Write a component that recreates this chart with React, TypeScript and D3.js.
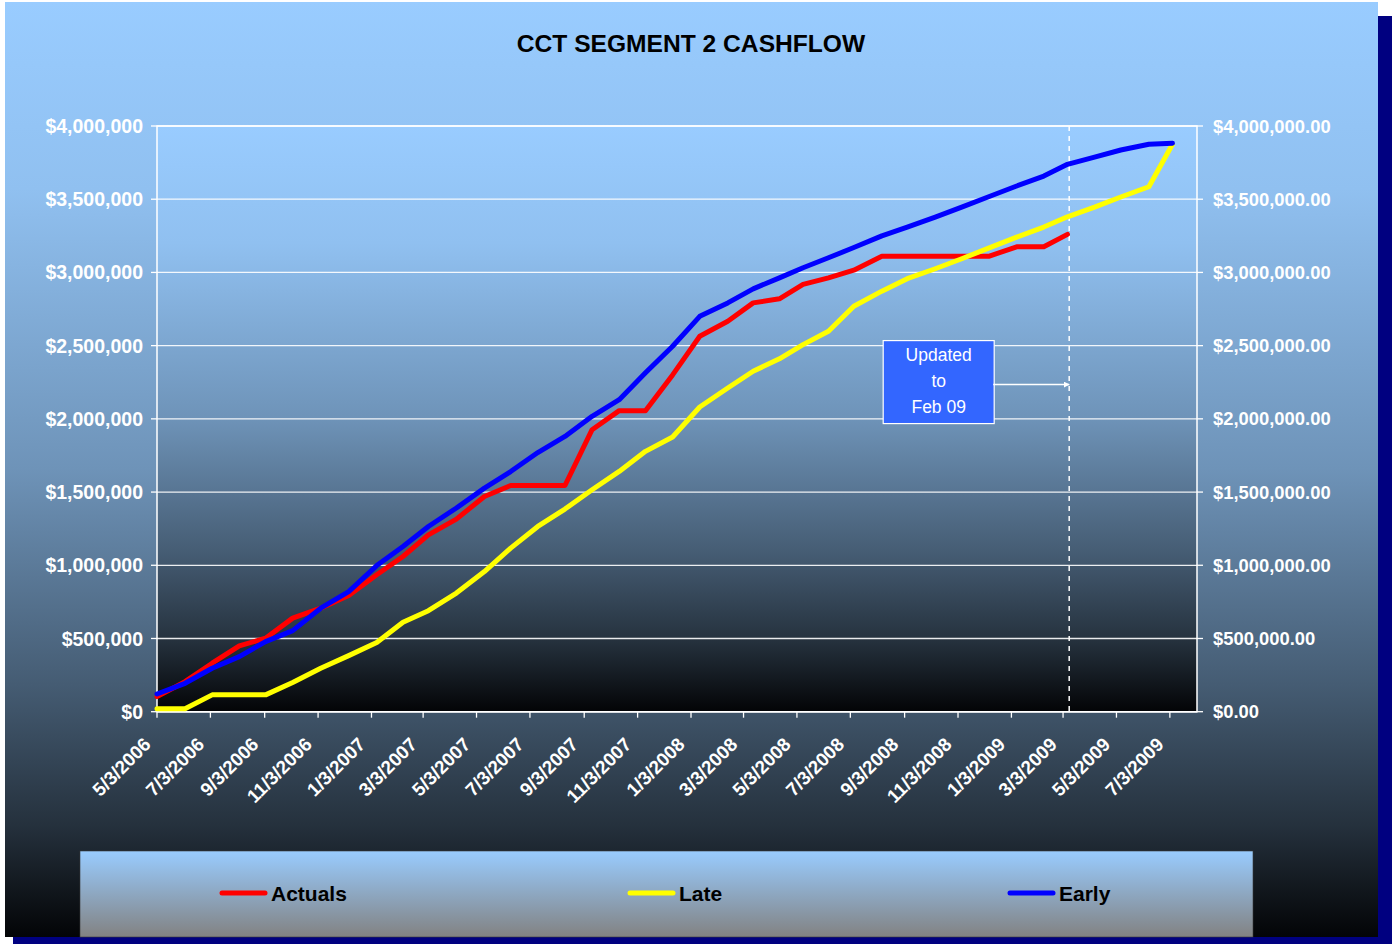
import { useEffect, useRef } from "react";
import * as d3 from "d3";

// dates of the monthly cost reports (as plotted on the date axis)
const reportDates = [
  "5/3/2006", "6/4/2006", "7/5/2006", "8/5/2006", "9/4/2006", "10/5/2006", "11/6/2006", "12/8/2006",
  "1/9/2007", "2/8/2007", "3/9/2007", "4/10/2007", "5/12/2007", "6/11/2007", "7/12/2007", "8/12/2007",
  "9/12/2007", "10/13/2007", "11/12/2007", "12/13/2007", "1/13/2008", "2/14/2008", "3/14/2008", "4/13/2008",
  "5/10/2008", "6/8/2008", "7/7/2008", "8/8/2008", "9/6/2008", "10/8/2008", "11/8/2008", "12/8/2008",
  "1/9/2009", "2/9/2009", "3/8/2009", "4/8/2009", "5/8/2009", "6/9/2009", "7/6/2009"
];

const tickLabels = [
  "5/3/2006", "7/3/2006", "9/3/2006", "11/3/2006", "1/3/2007", "3/3/2007", "5/3/2007", "7/3/2007",
  "9/3/2007", "11/3/2007", "1/3/2008", "3/3/2008", "5/3/2008", "7/3/2008", "9/3/2008", "11/3/2008",
  "1/3/2009", "3/3/2009", "5/3/2009", "7/3/2009"
];

const actuals = [
  103000, 205000, 331000, 449000, 502000, 639000, 707000, 793000, 935000, 1060000,
  1208000, 1315000, 1470000, 1545000, 1545000, 1545000, 1926000, 2056000, 2056000, 2300000,
  2564000, 2667000, 2792000, 2820000, 2918000, 2963000, 3015000, 3110000, 3110000, 3110000,
  3110000, 3110000, 3175000, 3175000, 3260000
];

const late = [
  20000, 20000, 115000, 115000, 115000, 200000, 297000, 383000, 472000, 611000,
  690000, 810000, 957000, 1117000, 1265000, 1384000, 1516000, 1641000, 1778000, 1876000,
  2081000, 2211000, 2325000, 2410000, 2507000, 2598000, 2769000, 2872000, 2957000, 3025000,
  3095000, 3166000, 3241000, 3310000, 3380000, 3446000, 3515000, 3585000, 3875000
];

const early = [
  121000, 194000, 297000, 376000, 479000, 554000, 707000, 820000, 998000, 1128000,
  1265000, 1391000, 1527000, 1640000, 1770000, 1880000, 2017000, 2131000, 2314000, 2496000,
  2700000, 2792000, 2888000, 2963000, 3032000, 3100000, 3170000, 3250000, 3310000, 3378000,
  3448000, 3517000, 3590000, 3658000, 3738000, 3788000, 3836000, 3875000, 3882000
];

const yTicks = [0, 500000, 1000000, 1500000, 2000000, 2500000, 3000000, 3500000, 4000000];
const axisEnd = "8/3/2009";
const updatedAt = "3/10/2009";
const noteLines = ["Updated", "to", "Feb 09"];

const seriesList = [
  { name: "Actuals", values: actuals, color: "#ff0000" },
  { name: "Late", values: late, color: "#ffff00" },
  { name: "Early", values: early, color: "#0000ff" }
];

const parse = d3.timeParse("%m/%d/%Y");
const dates = reportDates.map(s => parse(s) as Date);

export default function App() {
  const ref = useRef<SVGSVGElement | null>(null);

  useEffect(() => {
    const svg = d3.select(ref.current);
    svg.selectAll("*").remove();
    const W = 1397, H = 944;
    svg.attr("width", W).attr("height", H);

    const font = "Liberation Sans, Arial, sans-serif";
    const box = { l: 5, t: 2, r: 1378, b: 937 };
    const m = { l: 157, t: 126, r: 1197, b: 711.7 };

    const defs = svg.append("defs");
    const shade = (id: string) => {
      const g = defs.append("linearGradient").attr("id", id)
        .attr("x1", "0%").attr("y1", "0%").attr("x2", "0%").attr("y2", "100%");
      [[0, "#99ccff"], [0.2, "#90c0f0"], [0.5, "#6e93b8"], [0.73, "#455c73"], [0.88, "#25313d"], [1, "#030406"]]
        .forEach(([o, c]) => g.append("stop").attr("offset", o as number).attr("stop-color", c as string));
    };
    shade("bgOuter");
    shade("bgPlot");
    const lg = defs.append("linearGradient").attr("id", "bgLegend")
      .attr("x1", "0%").attr("y1", "0%").attr("x2", "0%").attr("y2", "100%");
    lg.append("stop").attr("offset", 0).attr("stop-color", "#99ccff");
    lg.append("stop").attr("offset", 1).attr("stop-color", "#828282");

    defs.append("marker").attr("id", "arrow")
      .attr("viewBox", "0 0 10 10").attr("refX", 9).attr("refY", 5)
      .attr("markerWidth", 4).attr("markerHeight", 4).attr("orient", "auto")
      .append("path").attr("d", "M0,0 L10,5 L0,10 z").attr("fill", "#ffffff");

    // shadow + chart area
    svg.append("rect").attr("x", box.l + 8).attr("y", box.t + 14)
      .attr("width", box.r - box.l + 6).attr("height", box.b - box.t + 10).attr("fill", "#000080");
    svg.append("rect").attr("x", box.l).attr("y", box.t)
      .attr("width", box.r - box.l).attr("height", box.b - box.t).attr("fill", "url(#bgOuter)");
    svg.append("rect").attr("x", m.l).attr("y", m.t)
      .attr("width", m.r - m.l).attr("height", m.b - m.t).attr("fill", "url(#bgPlot)");

    const x = d3.scaleTime().domain([parse(tickLabels[0]) as Date, parse(axisEnd) as Date]).range([m.l, m.r]);
    const y = d3.scaleLinear().domain([0, 4000000]).range([m.b, m.t]);

    // gridlines
    svg.append("g").selectAll("line").data(yTicks).enter().append("line")
      .attr("x1", m.l).attr("x2", m.r).attr("y1", d => y(d)).attr("y2", d => y(d))
      .attr("stroke", "#ffffff").attr("stroke-opacity", 0.9).attr("stroke-width", 1.3);

    // plot border
    svg.append("path")
      .attr("d", `M${m.l},${m.b} V${m.t} H${m.r} V${m.b} Z`)
      .attr("fill", "none").attr("stroke", "#ffffff").attr("stroke-width", 1.5);

    // value axes
    const fmtL = d3.format("$,.0f");
    const fmtR = d3.format("$,.2f");
    const axes = svg.append("g");
    yTicks.forEach(v => {
      axes.append("line").attr("x1", m.l - 6).attr("x2", m.l).attr("y1", y(v)).attr("y2", y(v))
        .attr("stroke", "#ffffff").attr("stroke-width", 1.3);
      axes.append("text").attr("x", 143).attr("y", y(v)).attr("dy", "0.36em")
        .attr("text-anchor", "end").attr("fill", "#ffffff").attr("font-family", font)
        .attr("font-weight", "bold").attr("font-size", 19.5).text(fmtL(v));
      axes.append("line").attr("x1", m.r).attr("x2", m.r + 6).attr("y1", y(v)).attr("y2", y(v))
        .attr("stroke", "#ffffff").attr("stroke-width", 1.3);
      axes.append("text").attr("x", 1213).attr("y", y(v)).attr("dy", "0.36em")
        .attr("text-anchor", "start").attr("fill", "#ffffff").attr("font-family", font)
        .attr("font-weight", "bold").attr("font-size", 18.4).text(fmtR(v));
    });

    // date axis
    const bottom = svg.append("g");
    tickLabels.forEach(lbl => {
      const tx = x(parse(lbl) as Date);
      bottom.append("line").attr("x1", tx).attr("x2", tx).attr("y1", m.b).attr("y2", m.b + 6)
        .attr("stroke", "#ffffff").attr("stroke-width", 1.3);
      bottom.append("text")
        .attr("transform", `translate(${tx - 5},${m.b + 34}) rotate(-45)`)
        .attr("text-anchor", "end").attr("fill", "#ffffff").attr("font-family", font)
        .attr("font-weight", "bold").attr("font-size", 18.8).text(lbl);
    });
    svg.append("line").attr("x1", m.l).attr("x2", m.r).attr("y1", m.b).attr("y2", m.b)
      .attr("stroke", "#ffffff").attr("stroke-width", 1.5);

    // update marker
    const ux = x(parse(updatedAt) as Date);
    svg.append("line").attr("x1", ux).attr("x2", ux).attr("y1", m.t).attr("y2", m.b)
      .attr("stroke", "#ffffff").attr("stroke-width", 1.5).attr("stroke-dasharray", "5 5");

    // series
    const line = d3.line<number>()
      .x((_, i) => x(dates[i]))
      .y(d => y(d));
    seriesList.forEach(s => {
      svg.append("path").datum(s.values).attr("d", line)
        .attr("fill", "none").attr("stroke", s.color).attr("stroke-width", 5)
        .attr("stroke-linejoin", "round").attr("stroke-linecap", "round");
    });

    // note box
    const noteY = y(2234000);
    const bx = ux - 186, bw = 111, bh = 83;
    svg.append("rect").attr("x", bx).attr("y", noteY - 44).attr("width", bw).attr("height", bh)
      .attr("fill", "#3366ff").attr("stroke", "#ffffff").attr("stroke-width", 1.2);
    noteLines.forEach((t, i) => {
      svg.append("text").attr("x", bx + bw / 2).attr("y", noteY - 30 + i * 26).attr("dy", "0.36em")
        .attr("text-anchor", "middle").attr("fill", "#ffffff").attr("font-family", font)
        .attr("font-size", 17.5).text(t);
    });
    svg.append("line").attr("x1", bx + bw - 1).attr("x2", ux).attr("y1", noteY).attr("y2", noteY)
      .attr("stroke", "#ffffff").attr("stroke-width", 1.5).attr("marker-end", "url(#arrow)");

    // title
    svg.append("text").attr("x", 691).attr("y", 52).attr("text-anchor", "middle")
      .attr("fill", "#000000").attr("font-family", font).attr("font-weight", "bold")
      .attr("font-size", 24.6).text("CCT SEGMENT 2 CASHFLOW");

    // legend
    svg.append("rect").attr("x", 80).attr("y", 851).attr("width", 1173).attr("height", box.b - 851)
      .attr("fill", "url(#bgLegend)").attr("stroke", "#3a3a3a").attr("stroke-width", 0.6);
    const legX = [222, 630, 1010];
    seriesList.forEach((s, i) => {
      svg.append("line").attr("x1", legX[i]).attr("x2", legX[i] + 43).attr("y1", 893).attr("y2", 893)
        .attr("stroke", s.color).attr("stroke-width", 5).attr("stroke-linecap", "round");
      svg.append("text").attr("x", legX[i] + 49).attr("y", 893).attr("dy", "0.36em")
        .attr("fill", "#000000").attr("font-family", font).attr("font-weight", "bold")
        .attr("font-size", 21).text(s.name);
    });
  }, []);

  return <svg ref={ref} style={{ position: "absolute", left: 0, top: 0, display: "block" }} />;
}
